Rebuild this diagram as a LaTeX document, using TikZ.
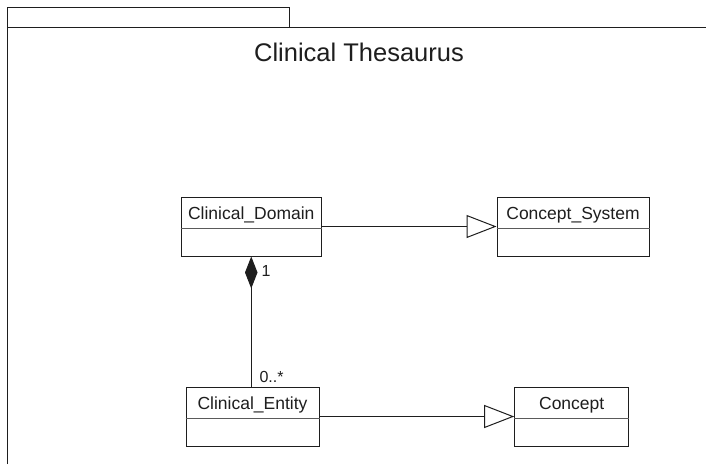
\documentclass[tikz,border=0pt]{standalone}
\usepackage{fontspec}
\setmainfont{Liberation Sans}
\usetikzlibrary{arrows.meta,calc}
\definecolor{ink}{HTML}{1E1E1E}
\definecolor{rule}{HTML}{5A5A5A}
\begin{document}
\begin{tikzpicture}[x=1pt,y=-1pt,
  line width=1pt,
  classbox/.style={draw=ink, fill=white, inner sep=0pt, minimum height=59pt},
  classname/.style={text=ink, inner sep=0pt, anchor=base, font=\fontsize{17.5}{20}\selectfont},
  multlabel/.style={text=ink, inner sep=0pt, anchor=west, font=\fontsize{16}{18}\selectfont},
  generalize/.style={draw=ink, -{Triangle[open, length=30pt, width=23pt, fill=white]}},
  compose/.style={draw=ink, {Diamond[length=32pt, width=12.5pt, fill=ink]}-}
]
% canvas
\useasboundingbox (0,0) rectangle (706,464);
\fill[white] (0,0) rectangle (706,464);

% package frame: tab and body
\draw[ink] (7,27) -- (7,7) -- (289,7) -- (289,27);
\draw[ink] (7,464) -- (7,27) -- (706,27);
\node[text=ink, inner sep=0pt, anchor=base, font=\fontsize{25.5}{28}\selectfont] (title) at (359,61.5) {Clinical Thesaurus};

% classes
\node[classbox, minimum width=140.5pt] (cd) at (251.25,226.5) {};
\node[classbox, minimum width=152pt] (cs) at (573,226.5) {};
\node[classbox, minimum width=133pt] (ce) at (252.5,416.5) {};
\node[classbox, minimum width=114pt] (co) at (571.7,416.5) {};

% class names and compartment dividers
\foreach \c/\t in {cd/Clinical\_Domain, cs/Concept\_System, ce/Clinical\_Entity, co/Concept}{
  \node[classname] (\c-name) at ($(\c.north)+(0,23)$) {\t};
  \draw[rule] ($(\c.north west)+(0,32)$) -- ($(\c.north east)+(0,32)$);
}

% generalizations
\draw[generalize] (cd.east) -- (cs.west);
\draw[generalize] (ce.east) -- (co.west);

% composition
\coordinate (ce-top) at (cd.south |- ce.north);
\draw[compose] (cd.south) -- (ce-top);
\node[multlabel] (m1) at (261,271) {1};
\node[multlabel] (m2) at (259,377) {0..*};
\end{tikzpicture}
\end{document}
